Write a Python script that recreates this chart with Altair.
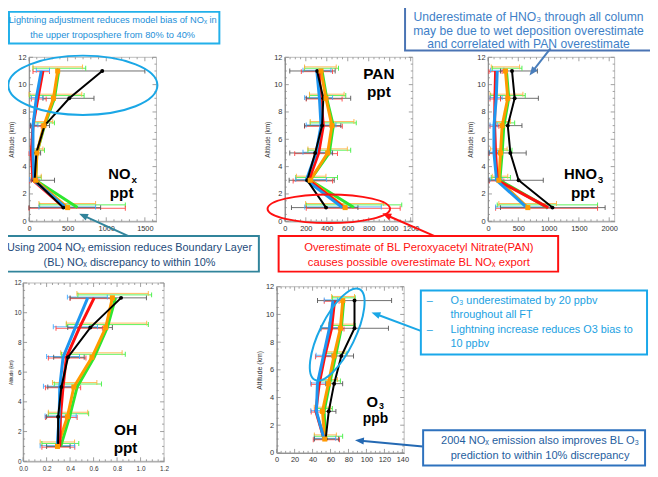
import math
import altair as alt
import pandas as pd

# ---------------------------------------------------------------- data
ALT = [1, 3, 5, 7, 9, 11]
OBS, BASE, E2004, LIGHT, BOTH = ("Observed", "Base model", "2004 NOx emission",
                                 "Lightning adjusted", "Lightning + 2004 NOx")
SERIES = [OBS, BASE, E2004, LIGHT, BOTH]

NOX_VAL = {OBS: [444, 73, 94, 200, 521, 948], BASE: [457, 51, 30, 51, 115, 180],
           E2004: [478, 64, 51, 51, 94, 158], LIGHT: [628, 85, 102, 200, 329, 384],
           BOTH: [500, 85, 102, 192, 316, 371]}
NOX_LO = {OBS: [0, 30, 40, 20, 180, 371], BASE: [0, 10, 0, 17, 30, 51],
          E2004: [128, 9, 9, 17, 30, 94], LIGHT: [137, 30, 30, 51, 9, 51],
          BOTH: [128, 30, 17, 64, 0, 51]}
NOX_HI = {OBS: [927, 330, 150, 265, 841, 1500], BASE: [1247, 130, 51, 158, 222, 265],
          E2004: [862, 115, 94, 115, 180, 265], LIGHT: [1247, 158, 200, 329, 713, 734],
          BOTH: [862, 158, 180, 307, 683, 692]}

PAN_VAL = {OBS: [393, 213, 289, 355, 367, 308], BASE: [565, 229, 323, 367, 345, 323],
           E2004: [550, 204, 298, 345, 330, 305], LIGHT: [659, 242, 424, 462, 399, 355],
           BOTH: [575, 242, 408, 449, 392, 345]}
PAN_LO = {OBS: [63, 41, 47, 188, 204, 47], BASE: [204, 79, 94, 188, 204, 157],
          E2004: [190, 104, 173, 204, 188, 173], LIGHT: [204, 104, 220, 242, 235, 188],
          BOTH: [198, 110, 220, 242, 235, 188]}
PAN_HI = {OBS: [697, 471, 455, 534, 628, 480], BASE: [1100, 455, 502, 548, 546, 455],
          E2004: [920, 398, 440, 487, 455, 440], LIGHT: [1115, 502, 628, 681, 581, 512],
          BOTH: [942, 392, 596, 659, 565, 490]}

HNO3_VAL = {OBS: [1064, 505, 369, 326, 440, 396], BASE: [994, 152, 125, 109, 114, 125],
            E2004: [641, 141, 98, 98, 136, 152], LIGHT: [983, 195, 233, 261, 342, 304],
            BOTH: [657, 179, 206, 233, 326, 288]}
HNO3_LO = {OBS: [206, 16, 16, 98, 206, 206], BASE: [125, 22, 16, 33, 33, 16],
           E2004: [125, 33, 22, 33, 33, 43], LIGHT: [152, 54, 98, 125, 43, 70],
           BOTH: [179, 70, 43, 98, 33, 54]}
HNO3_HI = {OBS: [1933, 912, 630, 560, 831, 815], BASE: [1808, 261, 206, 179, 206, 233],
           E2004: [970, 233, 163, 152, 233, 261], LIGHT: [1808, 369, 396, 440, 614, 560],
           BOTH: [1130, 326, 315, 369, 576, 521]}

OH_VAL = {OBS: [0.298, 0.298, 0.326, 0.382, 0.572, 0.834], BASE: [0.312, 0.318, 0.34, 0.368, 0.48, 0.605],
          E2004: [0.29, 0.307, 0.312, 0.34, 0.444, 0.55], LIGHT: [0.32, 0.396, 0.46, 0.605, 0.717, 0.787],
          BOTH: [0.293, 0.377, 0.432, 0.586, 0.703, 0.76]}
OH_LO = {OBS: [0.20, 0.20, 0.21, 0.26, 0.38, 0.40], BASE: [0.16, 0.19, 0.19, 0.215, 0.28, 0.40],
         E2004: [0.145, 0.187, 0.173, 0.2, 0.257, 0.377], LIGHT: [0.16, 0.215, 0.265, 0.326, 0.368, 0.466],
         BOTH: [0.145, 0.215, 0.25, 0.32, 0.368, 0.458]}
OH_HI = {OBS: [0.40, 0.40, 0.45, 0.52, 0.76, 1.05], BASE: [0.44, 0.46, 0.49, 0.535, 0.675, 0.76],
         E2004: [0.438, 0.452, 0.466, 0.48, 0.633, 0.717], LIGHT: [0.474, 0.558, 0.667, 0.87, 1.066, 1.094],
         BOTH: [0.438, 0.55, 0.628, 0.843, 1.052, 1.066]}

O3_VAL = {OBS: [54.6, 58, 64, 72, 86.7, 86.7], BASE: [52.8, 43.7, 47.4, 53.6, 61.2, 64.5],
          E2004: [52.8, 44.3, 45.4, 52, 58.7, 62.7], LIGHT: [54.6, 52.8, 59, 65.6, 72, 74.7],
          BOTH: [53.6, 51, 57.6, 63.8, 71, 73.6]}
O3_LO = {OBS: [42, 52.8, 54.6, 52.8, 49, 45.5], BASE: [40.8, 38.5, 38.5, 43.2, 49.4, 53],
         E2004: [42, 38, 37.8, 43.9, 49.4, 53], LIGHT: [42, 43.7, 47.3, 52.8, 58.3, 62],
         BOTH: [42, 41.9, 46.2, 52, 58, 61.2]}
O3_HI = {OBS: [69, 66, 73.5, 85.6, 124.5, 128], BASE: [70, 51.3, 56.8, 64, 75, 69.5],
         E2004: [65.7, 51, 55, 61.5, 71.7, 67.7], LIGHT: [73.5, 62, 71, 78.3, 87.5, 87.5],
         BOTH: [66.5, 60, 67.7, 76, 86, 86.7]}

NOX_TICKS = [0, 500, 1000, 1500]
PAN_TICKS = [0, 200, 400, 600, 800, 1000, 1200]
HNO3_TICKS = [0, 500, 1000, 1500, 2000]
OH_TICKS = [0.0, 0.2, 0.4, 0.6, 0.8, 1.0, 1.2]
O3_TICKS = [0, 20, 40, 60, 80, 100, 120, 140]
ALT_TICKS = [0, 2, 4, 6, 8, 10, 12]

# ---------------------------------------------------------------- style / layout
W, H = 650, 469
FONT = "Liberation Sans"
LINE_COLOR = {OBS: "#000000", BASE: "#FF1010", E2004: "#1E96F0", LIGHT: "#2EE62E", BOTH: "#FF9A00"}
BAR_COLOR = {OBS: "#555555", BASE: "#FF4040", E2004: "#40AAFF", LIGHT: "#40F040", BOTH: "#FFB040"}
BAR_SHIFT = {OBS: 0.0, BASE: -0.05, E2004: 0.05, LIGHT: 0.2, BOTH: 0.3}
LINE_WIDTH = {OBS: 2, BASE: 3, E2004: 3, LIGHT: 3, BOTH: 3}
DRAW_ORDER = [LIGHT, BOTH, BASE, E2004, OBS]

PANELS = [
    dict(val=NOX_VAL, lo=NOX_LO, hi=NOX_HI, xdom=[0, 1650], xr=[21.3, 150.3], yr=[213, 47],
         ticks=NOX_TICKS, minor=100, fmt="d", tsize=6.5, lsize=7.5, lpad=3, xpad=3, tpad=3),
    dict(val=PAN_VAL, lo=PAN_LO, hi=PAN_HI, xdom=[0, 1220], xr=[280.3, 409.8], yr=[213, 47],
         ticks=PAN_TICKS, minor=50, fmt="d", tsize=6.5, lsize=7.5, lpad=3, xpad=3, tpad=3),
    dict(val=HNO3_VAL, lo=HNO3_LO, hi=HNO3_HI, xdom=[0, 2090], xr=[486, 614.2], yr=[213, 47],
         ticks=HNO3_TICKS, minor=100, fmt="d", tsize=6.5, lsize=7.5, lpad=3, xpad=3, tpad=3),
    dict(val=OH_VAL, lo=OH_LO, hi=OH_HI, xdom=[0, 1.2], xr=[15.3, 158], yr=[456, 275.5],
         ticks=OH_TICKS, minor=0.05, fmt=".1f", tsize=4.5, lsize=6.5, lpad=2, xpad=4, tpad=1),
    dict(val=O3_VAL, lo=O3_LO, hi=O3_HI, xdom=[0, 142], xr=[272, 401.1], yr=[447.5, 279.3],
         ticks=O3_TICKS, minor=5, fmt="d", tsize=7, lsize=7.5, lpad=3, xpad=3, tpad=3),
]
MAJOR_LEN, MINOR_LEN = 4, 2   # tick lengths in px (inward, IDL style)
ALT_MINOR = 0.5


def panel(p):
    xsc = alt.Scale(domain=p["xdom"], range=p["xr"], nice=False, zero=False)
    ysc = alt.Scale(domain=[0, 12], range=p["yr"], nice=False, zero=False)
    common = dict(grid=False, ticks=False, domainColor="#666666", domainWidth=1,
                  labelFont=FONT, labelFontSize=p["lsize"], labelColor="#333333",
                  labelOverlap=False, labelFlush=False)
    xax = alt.Axis(orient="bottom", offset=-(H - p["yr"][0]), values=p["ticks"],
                   format=p["fmt"], title=None, labelPadding=p["xpad"], **common)
    yax = alt.Axis(orient="left", offset=-p["xr"][0], values=ALT_TICKS, format="d",
                   title="Altitude (km)", titleFont=FONT, titleFontSize=p["tsize"],
                   titleFontWeight="normal", titleColor="#333333", titlePadding=p["tpad"],
                   labelPadding=p["lpad"], **common)

    def X(f):
        return alt.X(f, type="quantitative", scale=xsc, axis=xax)

    def Y(f):
        return alt.Y(f, type="quantitative", scale=ysc, axis=yax)

    x0, x1 = p["xdom"]
    frame = pd.DataFrame({"x0": [x0], "x1": [x1], "y0": [0], "y1": [12]})
    layers = [alt.Chart(frame).mark_rect(fillOpacity=0, stroke="#BBBBBB", strokeWidth=1)
              .encode(x=X("x0"), x2=alt.X2("x1"), y=Y("y0"), y2=alt.Y2("y1"))]

    # inward tick marks on all four sides
    ux = (x1 - x0) / (p["xr"][1] - p["xr"][0])      # data units per px along x
    uy = 12 / (p["yr"][0] - p["yr"][1])              # data units per px along y
    trows = []
    n = int(round((x1 - x0) / p["minor"]))
    major = set(round(t, 6) for t in p["ticks"])
    for k in range(n + 1):
        v = round(x0 + k * p["minor"], 6)
        if v > x1:
            break
        ln = MAJOR_LEN if v in major else MINOR_LEN
        trows.append(dict(xa=v, xb=v, ya=0, yb=ln * uy))
        trows.append(dict(xa=v, xb=v, ya=12, yb=12 - ln * uy))
    for k in range(int(12 / ALT_MINOR) + 1):
        v = k * ALT_MINOR
        ln = MAJOR_LEN if v in ALT_TICKS else MINOR_LEN
        trows.append(dict(xa=x0, xb=x0 + ln * ux, ya=v, yb=v))
        trows.append(dict(xa=x1, xb=x1 - ln * ux, ya=v, yb=v))
    layers.append(alt.Chart(pd.DataFrame(trows)).mark_rule(color="#888888", strokeWidth=0.8)
                  .encode(x=X("xa"), x2=alt.X2("xb"), y=Y("ya"), y2=alt.Y2("yb")))

    rows = []
    for s in DRAW_ORDER:
        for i, a in enumerate(ALT):
            rows.append(dict(series=s, alt=a, ay=a + BAR_SHIFT[s], val=p["val"][s][i],
                             lo=p["lo"][s][i], hi=p["hi"][s][i], bc=BAR_COLOR[s]))
    df = pd.DataFrame(rows)
    bc = alt.Color("bc:N", scale=None)
    layers.append(alt.Chart(df).mark_rule(strokeWidth=1, opacity=0.85)
                  .encode(x=X("lo"), x2=alt.X2("hi"), y=Y("ay"), color=bc))
    for end in ("lo", "hi"):
        layers.append(alt.Chart(df).mark_tick(orient="vertical", size=5, thickness=1, opacity=0.9)
                      .encode(x=X(end), y=Y("ay"), color=bc))
    for s in DRAW_ORDER:
        sd = df[df.series == s]
        layers.append(alt.Chart(sd).mark_line(color=LINE_COLOR[s], strokeWidth=LINE_WIDTH[s])
                      .encode(x=X("val"), y=Y("alt"), order="alt:Q"))
    layers.append(alt.Chart(df[df.series == OBS]).mark_point(shape="circle", filled=True, size=16,
                                                               opacity=1, color="#000000")
                  .encode(x=X("val"), y=Y("alt")))
    layers.append(alt.Chart(df[df.series == BOTH]).mark_point(shape="square", filled=True, size=26,
                                                                opacity=1, color=LINE_COLOR[BOTH])
                  .encode(x=X("val"), y=Y("alt")))
    return alt.layer(*layers)


def px(f):
    return alt.X(f, type="quantitative", scale=None)


def py(f):
    return alt.Y(f, type="quantitative", scale=None)


def text_layer(items, size, color, font=FONT, weight="normal", align="center"):
    df = pd.DataFrame(items, columns=["text", "x", "y"])
    return (alt.Chart(df)
            .mark_text(font=font, fontSize=size, color=color, fontWeight=weight,
                       align=align, baseline="middle")
            .encode(x=px("x"), y=py("y"), text="text:N"))


def box_layer(x, y, x2, y2, color):
    df = pd.DataFrame({"x": [x], "y": [y], "x2": [x2], "y2": [y2]})
    return (alt.Chart(df).mark_rect(fillOpacity=0, stroke=color, strokeWidth=2)
            .encode(x=px("x"), y=py("y"), x2="x2:Q", y2="y2:Q"))


K = 0.5523


def ellipse_layer(cx, cy, w, h, angle, color):
    r = h / w
    path = (f"M 1 0 C 1 {K*r:.4f} {K} {r:.4f} 0 {r:.4f} C {-K} {r:.4f} -1 {K*r:.4f} -1 0 "
            f"C -1 {-K*r:.4f} {-K} {-r:.4f} 0 {-r:.4f} C {K} {-r:.4f} 1 {-K*r:.4f} 1 0 Z")
    df = pd.DataFrame({"x": [cx], "y": [cy]})
    return (alt.Chart(df).mark_point(shape=path, size=w * w, filled=False, opacity=1,
                                     stroke=color, strokeWidth=2, angle=angle)
            .encode(x=px("x"), y=py("y")))


ARROW_PATH = "M 0 0 L 0.6 1.5 L -0.6 1.5 Z"


def arrow_layers(tx, ty, hx, hy, color):
    dx, dy = hx - tx, hy - ty
    ln = math.hypot(dx, dy)
    ang = math.degrees(math.atan2(dx, -dy)) % 360
    ex, ey = hx - dx / ln * 6, hy - dy / ln * 6
    line = pd.DataFrame({"x": [tx], "y": [ty], "x2": [ex], "y2": [ey]})
    head = pd.DataFrame({"x": [hx], "y": [hy]})
    return [
        alt.Chart(line).mark_rule(color=color, strokeWidth=2)
        .encode(x=px("x"), y=py("y"), x2="x2:Q", y2="y2:Q"),
        alt.Chart(head).mark_point(shape=ARROW_PATH, size=144, filled=True, opacity=1,
                                   color=color, angle=ang)
        .encode(x=px("x"), y=py("y")),
    ]


layers = [panel(p) for p in PANELS]

# ellipses
layers.append(ellipse_layer(75.8, 75.3, 151, 60, 0, "#1AA7E6"))
layers.append(ellipse_layer(324.8, 200.3, 124, 29, 0, "#FF1010"))
layers.append(ellipse_layer(333.3, 327.7, 102.4, 36, 116.1, "#1AA7E6"))

# arrows
layers += arrow_layers(122, 228, 72, 205.3, "#31849B")
layers += arrow_layers(432, 228, 379, 205, "#FF1010")
layers += arrow_layers(549.3, 38, 528, 65.3, "#4A7EBB")
layers += arrow_layers(418, 324, 368, 305.3, "#1AA7E6")
layers += arrow_layers(420, 441, 351.3, 434.7, "#2469B3")

# text boxes
layers.append(box_layer(1, 1, 214, 33, "#22B0EA"))
layers.append(text_layer([("Lightning adjustment reduces model bias of NOₓ in", 106, 9.5),
                          ("the upper troposphere from 80% to 40%", 106, 24.5)],
                         9.4, "#1E8FD8"))
layers.append(box_layer(402, -4, 656, 40, "#4A74B4"))
layers.append(text_layer([("Underestimate of HNO₃ through all column", 527, 6),
                          ("may be due to wet deposition overestimate", 527, 20),
                          ("and  correlated with PAN overestimate", 527, 34)],
                         12.3, "#3E7FC8"))
layers.append(box_layer(-1, 228, 254, 264, "#31849B"))
layers.append(text_layer([("Using 2004 NOₓ emission reduces Boundary Layer", 123, 240),
                          ("(BL) NOₓ discrepancy to within 10%", 123, 255)],
                         11, "#234A7A"))
layers.append(box_layer(274, 228, 557, 264, "#FF1010"))
layers.append(text_layer([("Overestimate of BL Peroxyacetyl Nitrate(PAN)", 416, 240),
                          ("causes possible overestimate BL NOₓ export", 416, 255)],
                         11.4, "#FF1010"))
layers.append(box_layer(418, 283, 647, 348, "#1AA8EA"))
layers.append(text_layer([("–", 427, 293.7), ("–", 427, 322.7)], 11, "#1BA1E2"))
layers.append(text_layer([("O₃ underestimated by 20 ppbv", 448, 293.7),
                          ("throughout all FT", 448, 307.5),
                          ("Lightning increase reduces O3 bias to", 448, 322.7),
                          ("10 ppbv", 448, 337)],
                         11, "#1BA1E2", align="left"))
layers.append(box_layer(420.3, 424.7, 645, 460.3, "#2E72BE"))
layers.append(text_layer([("2004 NOₓ emission also improves BL O₃", 538.7, 436),
                          ("prediction to within 10% discrepancy", 538.7, 451)],
                         11.2, "#1F5E9E"))

# panel labels
layers.append(text_layer([("NO", 101.5, 165.5), ("HNO", 563, 165.5)], 15, "#000000",
                         weight="bold", align="left"))
layers.append(text_layer([("x", 125, 171.5), ("3", 597, 171.5)], 10, "#000000",
                         weight="bold", align="left"))
layers.append(text_layer([("ppt", 115, 184.5), ("PAN", 375.5, 64), ("ppt", 375.5, 82.5),
                          ("ppt", 582, 184.5), ("OH", 119, 424.5), ("ppt", 119, 442.5)],
                         15.5, "#000000", weight="bold"))
layers.append(text_layer([("O", 363, 396.5)], 15, "#000000", weight="bold", align="left"))
layers.append(text_layer([("3", 375.5, 400)], 9, "#000000", weight="bold", align="left"))
layers.append(text_layer([("ppb", 372, 413)], 14, "#000000", weight="bold"))

chart = (alt.layer(*layers)
         .resolve_scale(x="independent", y="independent")
         .properties(width=W, height=H, autosize=alt.AutoSizeParams(type="none"), padding=0,
                     background="white")
         .configure_view(strokeWidth=0))

chart.save("out.html", embed_options={"renderer": "svg", "actions": False})
